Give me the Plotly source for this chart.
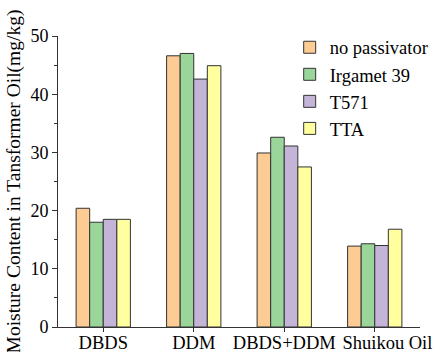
import plotly.graph_objects as go

categories = ["DBDS", "DDM", "DBDS+DDM", "Shuikou Oil"]
series_names = ["no passivator", "Irgamet 39", "T571", "TTA"]
no_passivator = [20.4, 46.6, 29.9, 13.9]
irgamet_39 = [18.0, 47.0, 32.6, 14.3]
t571 = [18.5, 42.6, 31.1, 14.0]
tta = [18.5, 44.9, 27.5, 16.8]
colors = ["#FDCC94", "#9AD69A", "#C4B4D8", "#FFFFA0"]

values = [no_passivator, irgamet_39, t571, tta]
FONT = "Liberation Serif"

fig = go.Figure()
for name, vals, col in zip(series_names, values, colors):
    fig.add_trace(go.Bar(
        x=categories, y=vals, name=name,
        marker=dict(color=col, line=dict(color="#333333", width=1)),
    ))

# label positions (category index units); last label nudged right as in the original
label_pos = [i for i in range(len(categories))]
label_pos[-1] += 0.14

fig.update_layout(
    width=437, height=352,
    margin=dict(l=58, r=17, t=36, b=25, autoexpand=False),
    paper_bgcolor="white", plot_bgcolor="white",
    barmode="group", bargap=0.4, bargroupgap=0,
    font=dict(family=FONT, size=18, color="black"),
    showlegend=True,
    legend=dict(x=0.64, y=1.025, xanchor="left", yanchor="top",
                font=dict(family=FONT, size=18.5), bgcolor="rgba(0,0,0,0)",
                tracegroupgap=0, itemwidth=30),
)
fig.update_xaxes(
    range=[-0.5, 3.5], showline=True, linecolor="#333333", linewidth=1,
    ticks="", showgrid=False,
    tickvals=label_pos, ticktext=categories, ticklabelstandoff=-1,
    tickfont=dict(family=FONT, size=18.5), automargin=False, tickangle=0,
    minor=dict(ticks="outside", ticklen=4, tickcolor="#333333", tick0=-0.5, dtick=0.5),
)
fig.update_yaxes(
    range=[0, 50], showline=True, linecolor="#333333", linewidth=1,
    ticks="outside", ticklen=5, tickcolor="#333333", showgrid=False, zeroline=False,
    tick0=0, dtick=10, tickfont=dict(family=FONT, size=18), automargin=False,
    minor=dict(ticks="outside", ticklen=3, tickcolor="#333333", dtick=5, showgrid=False),
    title=dict(text="Moisture Content in Tansformer Oil(mg/kg)",
               font=dict(family=FONT, size=19.5), standoff=4),
)

fig.write_html("out.html", config={"displayModeBar": False},
               post_script="document.body.style.margin='0px';document.body.style.overflow='hidden';")
